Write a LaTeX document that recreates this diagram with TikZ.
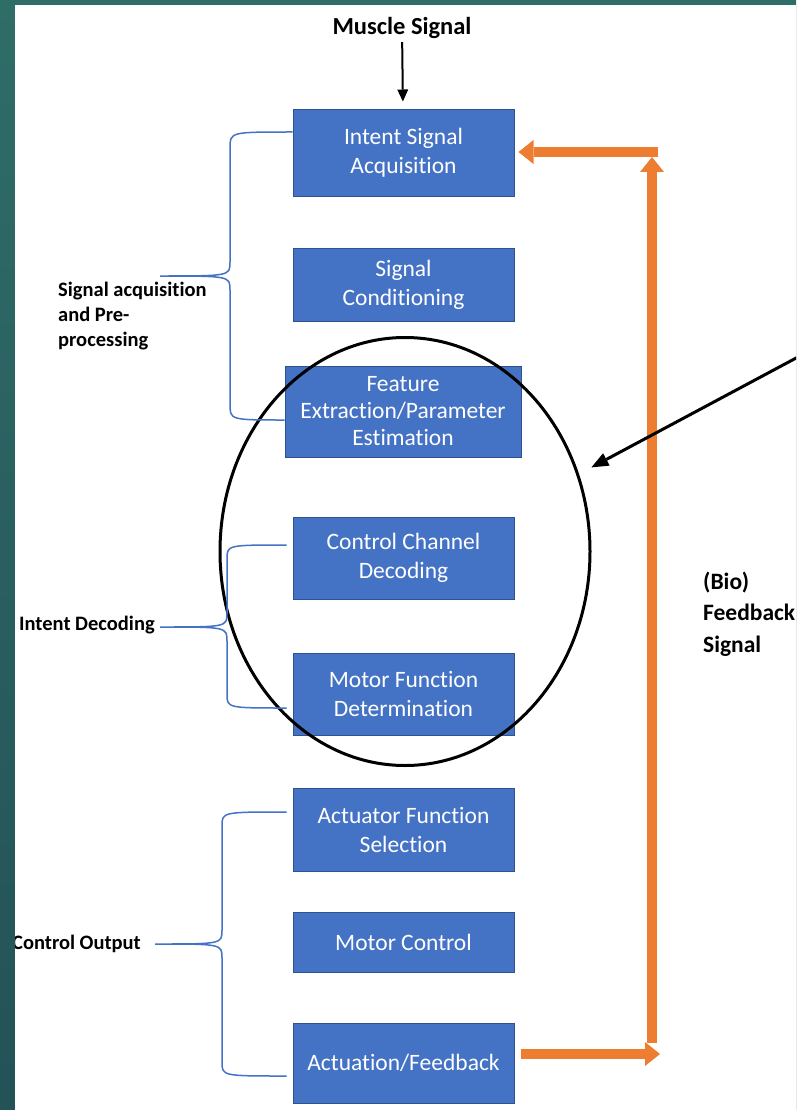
\documentclass[tikz,border=0pt]{standalone}
\usepackage{fontspec}
\setmainfont{Carlito}[Ligatures=NoCommon]
\usetikzlibrary{arrows.meta,positioning,calc,shapes.geometric}
\definecolor{boxblue}{HTML}{4472C4}
\definecolor{boxedge}{HTML}{2F528F}
\definecolor{fborange}{HTML}{ED7D31}
\definecolor{slidetop}{HTML}{2F6D67}
\definecolor{slidebot}{HTML}{235257}

\begin{document}
\begin{tikzpicture}[x=1pt, y=-1pt,
  stage/.style={rectangle, draw=boxedge, line width=1pt, fill=boxblue, text=white, minimum width=221pt, inner sep=0pt, align=center, font=\fontsize{23.5}{29}\selectfont},
  group/.style={align=left, inner sep=0pt, font=\fontsize{20.5}{25}\selectfont\bfseries},
  brace/.style={draw=boxblue, line width=1.5pt},
  feedback/.style={draw=fborange, line width=10pt, -{Triangle[length=15pt, width=24pt, line width=0pt]}},
  arrow/.style={-{Triangle[length=12pt, width=11pt, line width=0pt]}, line width=2pt},
  pointer/.style={-{Triangle[length=17pt, width=14pt, line width=0pt]}, line width=3pt}
]
\useasboundingbox (0,0) rectangle (796,1110);
\shade[top color=slidetop, bottom color=slidebot] (0,0) rectangle (796,1110);
\fill[white] (15,5) rectangle (796,1110);
\begin{scope}
\clip (15,5) rectangle (796,1110);
\node[font=\fontsize{24.5}{29}\selectfont\bfseries] (ms) at (402,28) {Muscle Signal};
\node[stage, minimum height=86pt] (isa) at (403.5,153) {Intent Signal\\Acquisition};
\node[stage, minimum height=73pt] (scd) at (403.5,284.5) {Signal\\Conditioning};
\node[stage, minimum height=91pt, minimum width=236pt, font=\fontsize{23.5}{27}\selectfont] (fpe) at (403,411.5) {Feature\\Extraction/Parameter\\Estimation};
\node[stage, minimum height=82pt] (ccd) at (403.5,558) {Control Channel\\Decoding};
\node[stage, minimum height=82pt] (mfd) at (403.5,694) {Motor Function\\Determination};
\node[stage, minimum height=83pt] (afs) at (403.5,829.5) {Actuator Function\\Selection};
\node[stage, minimum height=60pt] (mco) at (403.5,942.5) {Motor Control};
\node[stage, minimum height=80pt] (act) at (403.5,1063) {Actuation/Feedback};
\node[draw, ellipse, line width=3pt, minimum width=370pt, minimum height=428pt] (focus) at (405,551.5) {};

\node[group, anchor=west] (sap) at (58,316) {Signal acquisition\\and Pre-\\processing};
\node[group, anchor=west] (idl) at (19,625) {Intent Decoding};
\node[group, anchor=east] (col) at (141,944) {Control Output};
\node[anchor=west, inner sep=0pt, align=left, font=\fontsize{23.5}{31.5}\selectfont\bfseries] (bio) at (703,614) {(Bio)\\Feedback\\Signal};

\draw[arrow, shorten >=8pt] (ms) -- (isa);

\coordinate (riseb) at (652,1043);
\coordinate (riset) at (652,157);
\coordinate (fbin) at (658,152);
\draw[feedback] ($(act.east)+(6,-9)$) -- (660,1054);
\draw[feedback] (riseb) -- (riset);
\draw[feedback] (fbin) -- ($(isa.east)+(4,-1)$);

\coordinate (ptrtail) at (810,350.6);
\draw[pointer, shorten >=14pt] (ptrtail) -- (focus.24);

\coordinate (sapT) at ($(isa.west)+(0,-21)$);
\coordinate (sapB) at ($(fpe.west)+(0,8.5)$);
\coordinate (sapC) at (160,276);
\draw[brace] (sapT) .. controls (230,132) .. (230,148) -- (230,262) .. controls (230,276) .. (sapC)
  .. controls (230,276) .. (230,290) -- (230,404) .. controls (230,420) .. (sapB);
\coordinate (idlT) at ($(ccd.west)+(-6,-13)$);
\coordinate (idlB) at ($(mfd.west)+(-6,14)$);
\coordinate (idlC) at (160,627);
\draw[brace] (idlT) .. controls (227,545) .. (227,559) -- (227,613) .. controls (227,627) .. (idlC)
  .. controls (227,627) .. (227,641) -- (227,694) .. controls (227,708) .. (idlB);
\coordinate (colT) at ($(afs.west)+(-6,-17.5)$);
\coordinate (colB) at ($(act.west)+(-6,13)$);
\coordinate (colC) at (155,944);
\draw[brace] (colT) .. controls (222,812) .. (222,826) -- (222,930) .. controls (222,944) .. (colC)
  .. controls (222,944) .. (222,958) -- (222,1062) .. controls (222,1076) .. (colB);
\end{scope}
\end{tikzpicture}
\end{document}
